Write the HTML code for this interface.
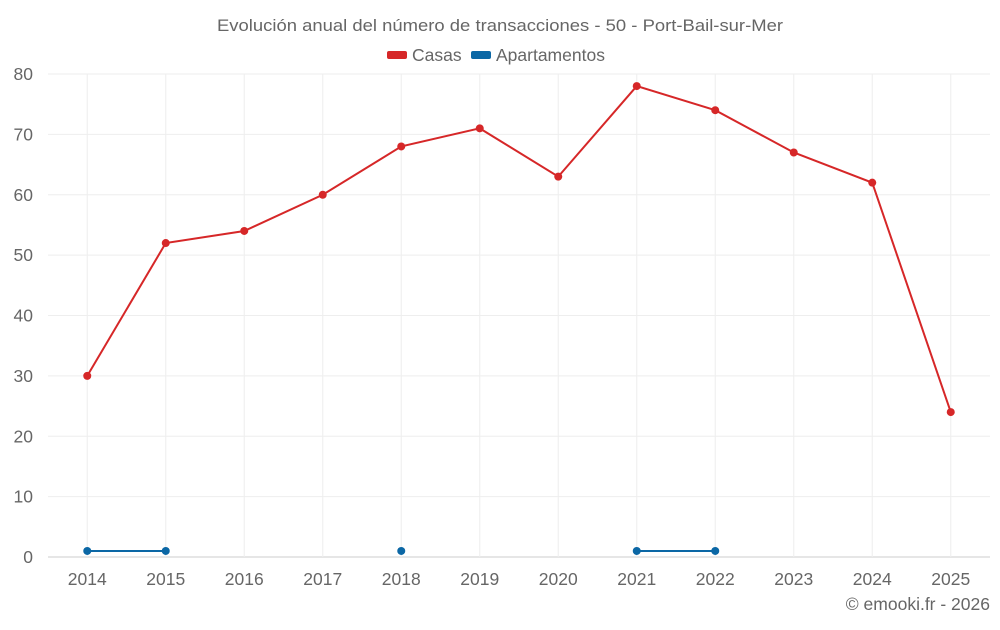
<!DOCTYPE html>
<html><head><meta charset="utf-8"><style>
body{margin:0;background:#fff;font-family:"Liberation Sans",sans-serif}
svg text{font-family:"Liberation Sans",sans-serif;fill:#666}
</style></head><body>
<svg id="c" width="1000" height="625">
<text x="500" y="31" text-anchor="middle" font-size="17" textLength="566" lengthAdjust="spacingAndGlyphs">Evolución anual del número de transacciones - 50 - Port-Bail-sur-Mer</text>
<g>
<g><rect x="387" y="51" width="20" height="8" rx="2" fill="#d62728"/><text x="412" y="61" font-size="17.5">Casas</text></g>
<g><rect x="471" y="51" width="20" height="8" rx="2" fill="#0b67a5"/><text x="496" y="61" font-size="17.5">Apartamentos</text></g>
</g>
<text x="990" y="610" text-anchor="end" font-size="17.5">© emooki.fr - 2026</text>
</svg>
<script>
const years=['2014','2015','2016','2017','2018','2019','2020','2021','2022','2023','2024','2025'];
const casas=[30,52,54,60,68,71,63,78,74,67,62,24];
const apartamentos=[1,1,null,null,1,null,null,1,1,null,null,null];
const yTicks=[0,10,20,30,40,50,60,70,80];
const L=48,R=990,T=74,B=557,yMax=80;
const bw=(R-L)/years.length;
const X=i=>L+bw*(i+0.5);
const Y=v=>B-(v/yMax)*(B-T);
const svg=document.getElementById('c');
const NS='http://www.w3.org/2000/svg';
function mk(t,a,p){const e=document.createElementNS(NS,t);for(const k in a)e.setAttribute(k,a[k]);(p||svg).appendChild(e);return e;}
yTicks.forEach(v=>{
 const l=mk('line',{x1:L,x2:R,y1:Y(v),y2:Y(v),stroke:v===0?'#ccc':'#eee','stroke-width':1});
 
 
 const t=mk('text',{x:L-15,y:Y(v)+6,'text-anchor':'end','font-size':17.5});t.textContent=v;
 
 
});
years.forEach((y,i)=>{
 const l=mk('line',{x1:X(i),x2:X(i),y1:T,y2:B,stroke:'#eee','stroke-width':1});
 
 
 const t=mk('text',{x:X(i),y:585,'text-anchor':'middle','font-size':17.5});t.textContent=y;
 
 
});
function series(data,color,name){
 const g=mk('g',{});
 
 
 let d='',pen=false;
 data.forEach((v,i)=>{if(v==null){pen=false;return;}d+=(pen?'L':'M')+X(i)+' '+Y(v)+' ';pen=true;});
 const p=mk('path',{d:d,fill:'none',stroke:color,'stroke-width':2},g);
 
 
 data.forEach((v,i)=>{if(v==null)return;
  const c=mk('circle',{cx:X(i),cy:Y(v),r:4,fill:color},g);
  
  
 });
}
series(casas,'#d62728','casas');
series(apartamentos,'#0b67a5','apartamentos');
</script>
</body></html>
